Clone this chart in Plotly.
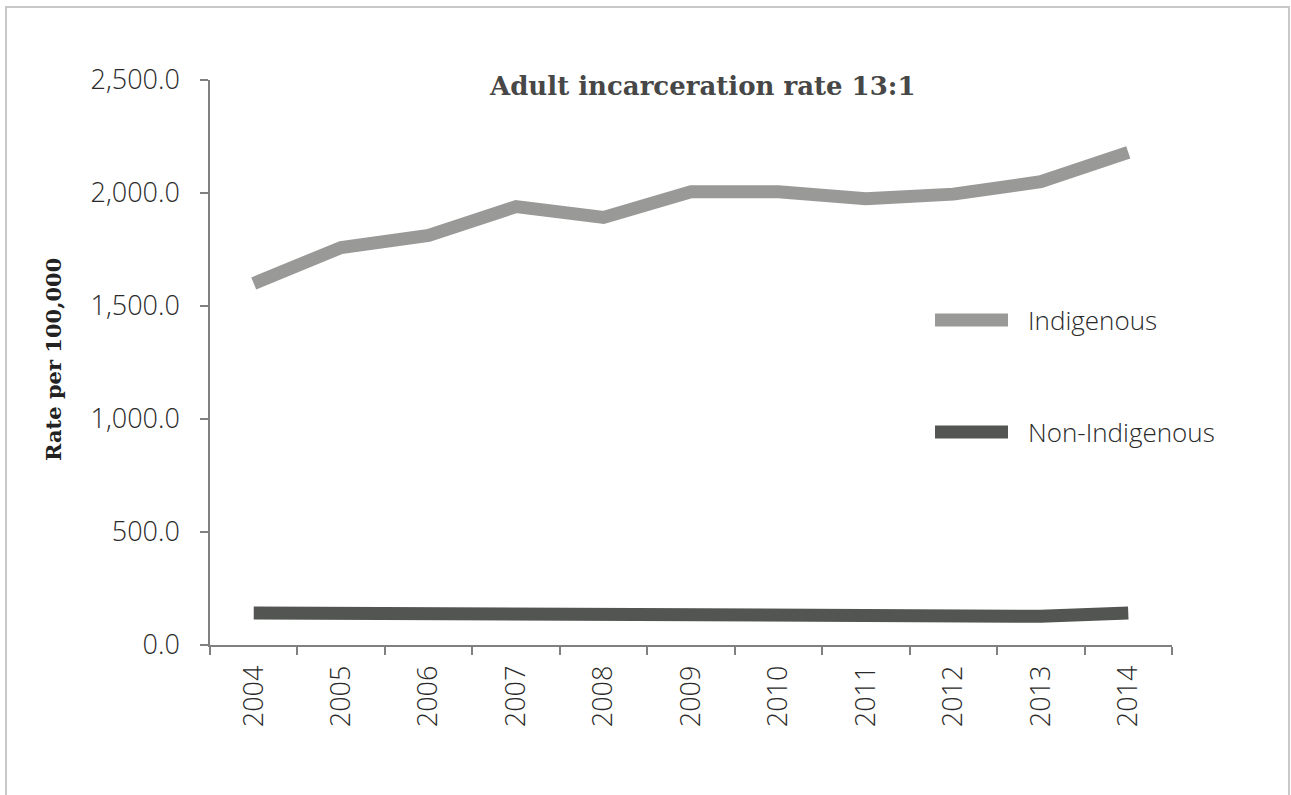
import plotly.graph_objects as go

years = ["2004", "2005", "2006", "2007", "2008", "2009", "2010", "2011", "2012", "2013", "2014"]
indigenous = [1600, 1759, 1812, 1940, 1892, 2005, 2005, 1975, 1995, 2050, 2180]
non_indigenous = [142, 140, 139, 137, 136, 135, 134, 133, 131, 127, 142]
series_names = ["Indigenous", "Non-Indigenous"]
series_colors = ["#999a98", "#535553"]

L, R, T, B = 210, 1172, 80, 645
W, H = 1291, 795
SANS = "Open Sans"

def px(x):
    return (x - L) / (R - L)

def py(y):
    return (B - y) / (B - T)

fig = go.Figure()
for name, vals, col in zip(series_names, [indigenous, non_indigenous], series_colors):
    fig.add_trace(go.Scatter(x=years, y=vals, mode="lines", name=name,
                             line=dict(color=col, width=13), showlegend=False))

shapes = [
    dict(type="rect", xref="paper", yref="paper", x0=px(6), x1=px(1289), y0=py(7), y1=py(820),
         line=dict(color="#c8c8c8", width=2), layer="below"),
]
annotations = []
legend_y = [320, 432]
for name, col, yy in zip(series_names, series_colors, legend_y):
    shapes.append(dict(type="line", xref="paper", yref="paper", x0=px(935), x1=px(1008),
                       y0=py(yy), y1=py(yy), line=dict(color=col, width=13)))
    annotations.append(dict(text=name, xref="paper", yref="paper", x=px(1026), y=py(yy),
                            xanchor="left", yanchor="middle", showarrow=False,
                            font=dict(family=SANS, size=26, color="#2a2a2a", weight=300)))

annotations.append(dict(text="<b>Adult incarceration rate 13:1</b>", xref="paper", yref="paper",
                        x=px(702), y=py(86), xanchor="center", yanchor="middle", showarrow=False,
                        font=dict(family="DejaVu Serif", size=26, color="#474747")))
annotations.append(dict(text="<b>Rate per 100,000</b>", xref="paper", yref="paper",
                        x=px(53), y=py(360), xanchor="center", yanchor="middle", showarrow=False,
                        textangle=-90,
                        font=dict(family="DejaVu Serif", size=21, color="#222222")))

fig.update_layout(
    width=W, height=H,
    margin=dict(l=L, r=W - R, t=T, b=H - B),
    paper_bgcolor="white", plot_bgcolor="white",
    shapes=shapes, annotations=annotations,
    font=dict(family=SANS, color="#2a2a2a"),
)
fig.update_xaxes(type="category", range=[-0.5, 10.5], tickson="boundaries",
                 ticks="outside", ticklen=8, tickcolor="#808080", tickwidth=1.5,
                 showline=True, linecolor="#808080", linewidth=1.5, showgrid=False,
                 tickangle=-90, tickfont=dict(family=SANS, size=27, color="#2a2a2a", weight=300),
                 ticklabelstandoff=8)
fig.update_yaxes(range=[0, 2500], dtick=500, tickformat=",.1f",
                 ticks="outside", ticklen=8, tickcolor="#808080", tickwidth=1.5,
                 showline=True, linecolor="#808080", linewidth=1.5, showgrid=False, zeroline=False,
                 tickfont=dict(family=SANS, size=27, color="#2a2a2a", weight=300),
                 ticklabelstandoff=15)

fig.write_html("out.html")
